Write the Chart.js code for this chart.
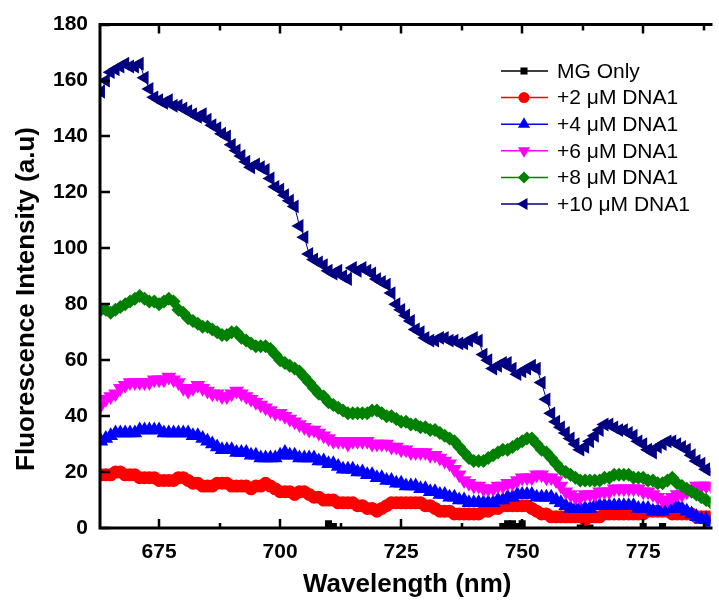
<!DOCTYPE html>
<html>
<head>
<meta charset="utf-8">
<title>Fluorescence spectra</title>
<script src="https://cdn.jsdelivr.net/npm/chart.js@4.4.1/dist/chart.umd.min.js"></script>
<style>
  html, body { margin: 0; padding: 0; background: #fff; }
  #wrap { width: 719px; height: 608px; }
</style>
</head>
<body>
<div id="wrap"><canvas id="spectraChart" width="719" height="608"></canvas></div>
<script>
// wavelength (nm), one reading per nm
const wavelengths = [
  663, 664, 665, 666, 667, 668, 669, 670, 671, 672,
  673, 674, 675, 676, 677, 678, 679, 680, 681, 682,
  683, 684, 685, 686, 687, 688, 689, 690, 691, 692,
  693, 694, 695, 696, 697, 698, 699, 700, 701, 702,
  703, 704, 705, 706, 707, 708, 709, 710, 711, 712,
  713, 714, 715, 716, 717, 718, 719, 720, 721, 722,
  723, 724, 725, 726, 727, 728, 729, 730, 731, 732,
  733, 734, 735, 736, 737, 738, 739, 740, 741, 742,
  743, 744, 745, 746, 747, 748, 749, 750, 751, 752,
  753, 754, 755, 756, 757, 758, 759, 760, 761, 762,
  763, 764, 765, 766, 767, 768, 769, 770, 771, 772,
  773, 774, 775, 776, 777, 778, 779, 780, 781, 782,
  783, 784, 785, 786, 787, 788, 789
];

const mgOnly = [
  -1, -1, -1, -1, -1, -1, -1, -1, -1, -1,
  -1, -1, -1, -1, -1, -1, -1, -1, -1, -1,
  -1, -1, -1, -1, -1, -1, -1, -1, -1, -1,
  -1, -1, -1, -1, -1, -1, -1, -1, -1, -1,
  -1, -1, -1, -1, -1, -1, -1, 1.5, 0.5, -1,
  -1, -1, -1, -1, -1, -1, -1, -1, -1, -1,
  -1, -1, -1, -1, -1, -1, -1, -1, -1, -1,
  -1, -1, -1, -1, -1, -1, -1, -1, -1, -1,
  -1, -1, -1, 0.5, 1.5, 1.5, 0.5, 1.5, -1, -1,
  -1, -1, -1, -1, -1, -1, -1, -1, -1, 0,
  0.5, 0, -1, -1, -1, -1, -1, -1, -1, -1,
  -1, -1, 0.5, -1, -1, -1, 0.5, -1, -1, -1,
  -1, -1, -1, -1, -1, -1, -1
];

const dna2 = [
  19, 19, 19, 20, 20, 19, 19, 19, 18, 18,
  18, 18, 17, 17, 17, 17, 18, 18, 17, 16,
  16, 15, 15, 15, 16, 16, 16, 15, 15, 15,
  15, 14, 15, 15, 16, 15, 14, 13, 13, 13,
  12, 13, 13, 12, 11, 11, 10, 10, 10, 9,
  9, 9, 9, 8, 8, 7, 7, 6, 7, 8,
  9, 9, 9, 9, 9, 9, 9, 8, 8, 7,
  6, 6, 6, 5, 5, 5, 5, 5, 5, 6,
  6, 7, 7, 8, 8, 8, 8, 8, 8, 7,
  6, 5, 5, 4, 4, 4, 4, 4, 4, 4,
  3, 4, 4, 4, 5, 5, 5, 5, 5, 5,
  5, 5, 5, 6, 6, 6, 6, 6, 5, 5,
  5, 5, 5, 4, 4, 4, 4
];

const dna4 = [
  31, 32, 33, 34, 34, 34, 34, 34, 35, 35,
  35, 35, 35, 34, 34, 34, 34, 34, 34, 33,
  33, 32, 31, 30, 29, 28, 28, 28, 27, 27,
  27, 26, 26, 25, 25, 25, 25, 26, 27, 26,
  26, 25, 25, 25, 25, 24, 24, 23, 23, 22,
  21, 21, 21, 20, 20, 19, 19, 18, 18, 17,
  17, 16, 16, 15, 15, 15, 14, 14, 13, 13,
  12, 12, 11, 11, 10, 10, 9, 9, 9, 9,
  9, 9, 10, 10, 11, 11, 12, 12, 12, 12,
  11, 11, 11, 11, 10, 9, 8, 7, 7, 7,
  7, 7, 8, 8, 8, 8, 8, 8, 8, 8,
  8, 7, 7, 7, 6, 6, 6, 7, 7, 8,
  7, 6, 5, 4, 3, 3, 2
];

const dna6 = [
  44, 46, 47, 48, 50, 51, 52, 52, 52, 52,
  52, 53, 53, 53, 54, 53, 52, 50, 49, 50,
  51, 50, 49, 48, 48, 47, 47, 48, 49, 48,
  47, 46, 45, 44, 43, 42, 41, 41, 40, 39,
  38, 37, 36, 35, 35, 34, 33, 32, 31, 31,
  31, 30, 31, 31, 31, 31, 30, 30, 30, 30,
  29, 29, 28, 28, 27, 27, 27, 27, 26, 26,
  25, 24, 23, 21, 19, 17, 16, 15, 15, 14,
  14, 14, 15, 15, 16, 16, 17, 18, 18, 18,
  19, 19, 18, 18, 17, 15, 13, 12, 11, 11,
  12, 12, 12, 13, 13, 13, 14, 14, 14, 14,
  14, 14, 13, 13, 12, 11, 10, 10, 11, 12,
  12, 13, 14, 15, 15, 15, 15
];

const dna8 = [
  78, 78, 77, 78, 79, 80, 81, 82, 83, 82,
  81, 81, 80, 81, 82, 81, 78, 77, 75, 74,
  73, 72, 72, 71, 70, 69, 69, 70, 70, 68,
  67, 66, 65, 65, 65, 64, 62, 60, 59, 58,
  57, 56, 54, 52, 50, 48, 47, 45, 44, 43,
  42, 41, 41, 41, 41, 41, 42, 42, 41, 40,
  40, 39, 38, 38, 37, 37, 36, 36, 35, 35,
  34, 33, 32, 31, 29, 27, 25, 24, 24, 24,
  25, 26, 27, 28, 28, 29, 30, 31, 32, 32,
  30, 28, 27, 25, 23, 21, 20, 19, 18, 17,
  17, 17, 17, 17, 18, 18, 19, 19, 19, 19,
  18, 18, 18, 17, 17, 16, 16, 17, 18, 16,
  15, 14, 13, 12, 11, 10, 9
];

const dna10 = [
  156, 160, 163, 164, 165, 166, 165, 165, 166, 161,
  157, 154, 153, 152, 153, 151, 151, 150, 149, 148,
  147, 148, 146, 144, 143, 141, 140, 137, 135, 133,
  131, 129, 130, 129, 128, 125, 122, 121, 119, 117,
  115, 108, 104, 98, 96, 95, 94, 92, 91, 92,
  90, 89, 93, 92, 93, 92, 91, 89, 88, 87,
  84, 80, 78, 76, 74, 71, 70, 68, 67, 67,
  68, 68, 67, 67, 66, 66, 67, 68, 67, 62,
  60, 57, 58, 59, 59, 57, 55, 56, 57, 58,
  57, 52, 46, 41, 38, 36, 34, 32, 30, 28,
  29, 31, 33, 35, 37, 37, 36, 35, 35, 34,
  33, 31, 30, 28, 27, 29, 30, 31, 31, 30,
  29, 28, 26, 24, 23, 21, 20
];

const seriesNames = ['MG Only', '+2 μM DNA1', '+4 μM DNA1', '+6 μM DNA1', '+8 μM DNA1', '+10 μM DNA1'];
const seriesValues = [mgOnly, dna2, dna4, dna6, dna8, dna10];
const seriesColors = ['#000000', '#FF0000', '#0000FF', '#FF00FF', '#008000', '#000080'];

const xTicks = [675, 700, 725, 750, 775];
const xMinorTicks = [687.5, 712.5, 737.5, 762.5, 787.5];
const yTicks = [0, 20, 40, 60, 80, 100, 120, 140, 160, 180];

const FONT = "'Liberation Sans', Arial, sans-serif";

// marker look per series (Origin style symbols)
const markerStyles = [
  { pointStyle: 'rect', rotation: 0, radius: 5, legend: 5 },
  { pointStyle: 'circle', rotation: 0, radius: 6.5, legend: 5.5 },
  { pointStyle: 'triangle', rotation: 0, radius: 8.5, legend: 7 },
  { pointStyle: 'triangle', rotation: 180, radius: 8.5, legend: 7 },
  { pointStyle: 'rectRot', rotation: 0, radius: 7, legend: 6 },
  { pointStyle: 'triangle', rotation: 270, radius: 8, legend: 7 }
];

const datasets = seriesNames.map(function (name, i) {
  return {
    label: name,
    data: wavelengths.map(function (w, k) { return { x: w, y: seriesValues[i][k] }; }),
    borderColor: seriesColors[i],
    backgroundColor: seriesColors[i],
    borderWidth: 1,
    pointStyle: markerStyles[i].pointStyle,
    pointRotation: markerStyles[i].rotation,
    pointRadius: markerStyles[i].radius,
    pointBorderWidth: 0,
    tension: 0,
    clip: 0,
    order: seriesNames.length - i   // later series drawn on top
  };
});

// axis frame + inward ticks, drawn over the data like Origin
const frameTicks = {
  id: 'frameTicks',
  afterDatasetsDraw(chart) {
    const ctx = chart.ctx;
    const a = chart.chartArea;
    const xs = chart.scales.x, ys = chart.scales.y;
    ctx.save();
    ctx.strokeStyle = '#000';
    ctx.lineWidth = 3;
    ctx.beginPath();
    ctx.moveTo(a.right + 2, a.top);
    ctx.lineTo(a.left, a.top);
    ctx.lineTo(a.left, a.bottom);
    ctx.lineTo(a.right + 2, a.bottom);
    ctx.stroke();

    ctx.lineWidth = 2.5;
    ctx.beginPath();
    xTicks.forEach(function (v) {
      const px = Math.round(xs.getPixelForValue(v));
      ctx.moveTo(px, a.bottom); ctx.lineTo(px, a.bottom - 9);
      ctx.moveTo(px, a.top); ctx.lineTo(px, a.top + 9);
    });
    xMinorTicks.forEach(function (v) {
      const px = Math.round(xs.getPixelForValue(v));
      ctx.moveTo(px, a.bottom); ctx.lineTo(px, a.bottom - 5);
      ctx.moveTo(px, a.top); ctx.lineTo(px, a.top + 6);
    });
    yTicks.forEach(function (v) {
      const py = Math.round(ys.getPixelForValue(v));
      ctx.moveTo(a.left, py); ctx.lineTo(a.left + 10, py);
    });
    ctx.stroke();
    ctx.restore();
  }
};

// axis titles and the frameless legend inside the plot
const titlesLegend = {
  id: 'titlesLegend',
  afterDraw(chart) {
    const ctx = chart.ctx;
    const a = chart.chartArea;
    ctx.save();
    ctx.fillStyle = '#000';
    ctx.font = 'bold 26px ' + FONT;
    ctx.textAlign = 'center';
    ctx.textBaseline = 'middle';
    ctx.fillText('Wavelength (nm)', (a.left + a.right) / 2 + 2, 585);

    ctx.translate(27, 299);
    ctx.rotate(-Math.PI / 2);
    ctx.fillText('Fluorescence Intensity (a.u)', 0, 0);
    ctx.restore();

    ctx.save();
    ctx.font = '21px ' + FONT;
    ctx.textAlign = 'left';
    ctx.textBaseline = 'middle';
    chart.data.datasets.forEach(function (ds, i) {
      const y = 71 + i * 26.6;
      ctx.strokeStyle = ds.borderColor;
      ctx.lineWidth = 1.5;
      ctx.beginPath();
      ctx.moveTo(501, y);
      ctx.lineTo(548, y);
      ctx.stroke();
      ctx.fillStyle = ds.backgroundColor;
      Chart.helpers.drawPoint(ctx, {
        pointStyle: ds.pointStyle,
        rotation: ds.pointRotation,
        radius: markerStyles[i].legend,
        borderWidth: 0
      }, 524, y);
      ctx.fillStyle = '#000';
      ctx.fillText(ds.label, 557, y + 1);
    });
    ctx.restore();
  }
};

const ctx = document.getElementById('spectraChart').getContext('2d');
new Chart(ctx, {
  type: 'line',
  data: { datasets: datasets },
  options: {
    responsive: false,
    animation: false,
    devicePixelRatio: 1,
    layout: { padding: { top: 23, left: 0, right: 0, bottom: 0 } },
    plugins: {
      legend: { display: false },
      tooltip: { enabled: false }
    },
    scales: {
      x: {
        type: 'linear',
        min: 662.8,
        max: 788.9,
        grid: { display: false, drawTicks: false },
        border: { display: false },
        afterBuildTicks: function (scale) {
          scale.ticks = xTicks.map(function (v) { return { value: v }; });
        },
        afterFit: function (scale) {
          scale.height = 80;
          scale.paddingLeft = 0;
          scale.paddingRight = 0;
        },
        ticks: {
          padding: 12,
          maxRotation: 0,
          color: '#000',
          font: { family: FONT, size: 21, weight: 'bold' }
        }
      },
      y: {
        min: 0,
        max: 180,
        grid: { display: false, drawTicks: false },
        border: { display: false },
        afterBuildTicks: function (scale) {
          scale.ticks = yTicks.map(function (v) { return { value: v }; });
        },
        afterFit: function (scale) {
          scale.width = 100;
        },
        ticks: {
          padding: 12,
          color: '#000',
          font: { family: FONT, size: 21, weight: 'bold' }
        }
      }
    }
  },
  plugins: [frameTicks, titlesLegend]
});
</script>
</body>
</html>
